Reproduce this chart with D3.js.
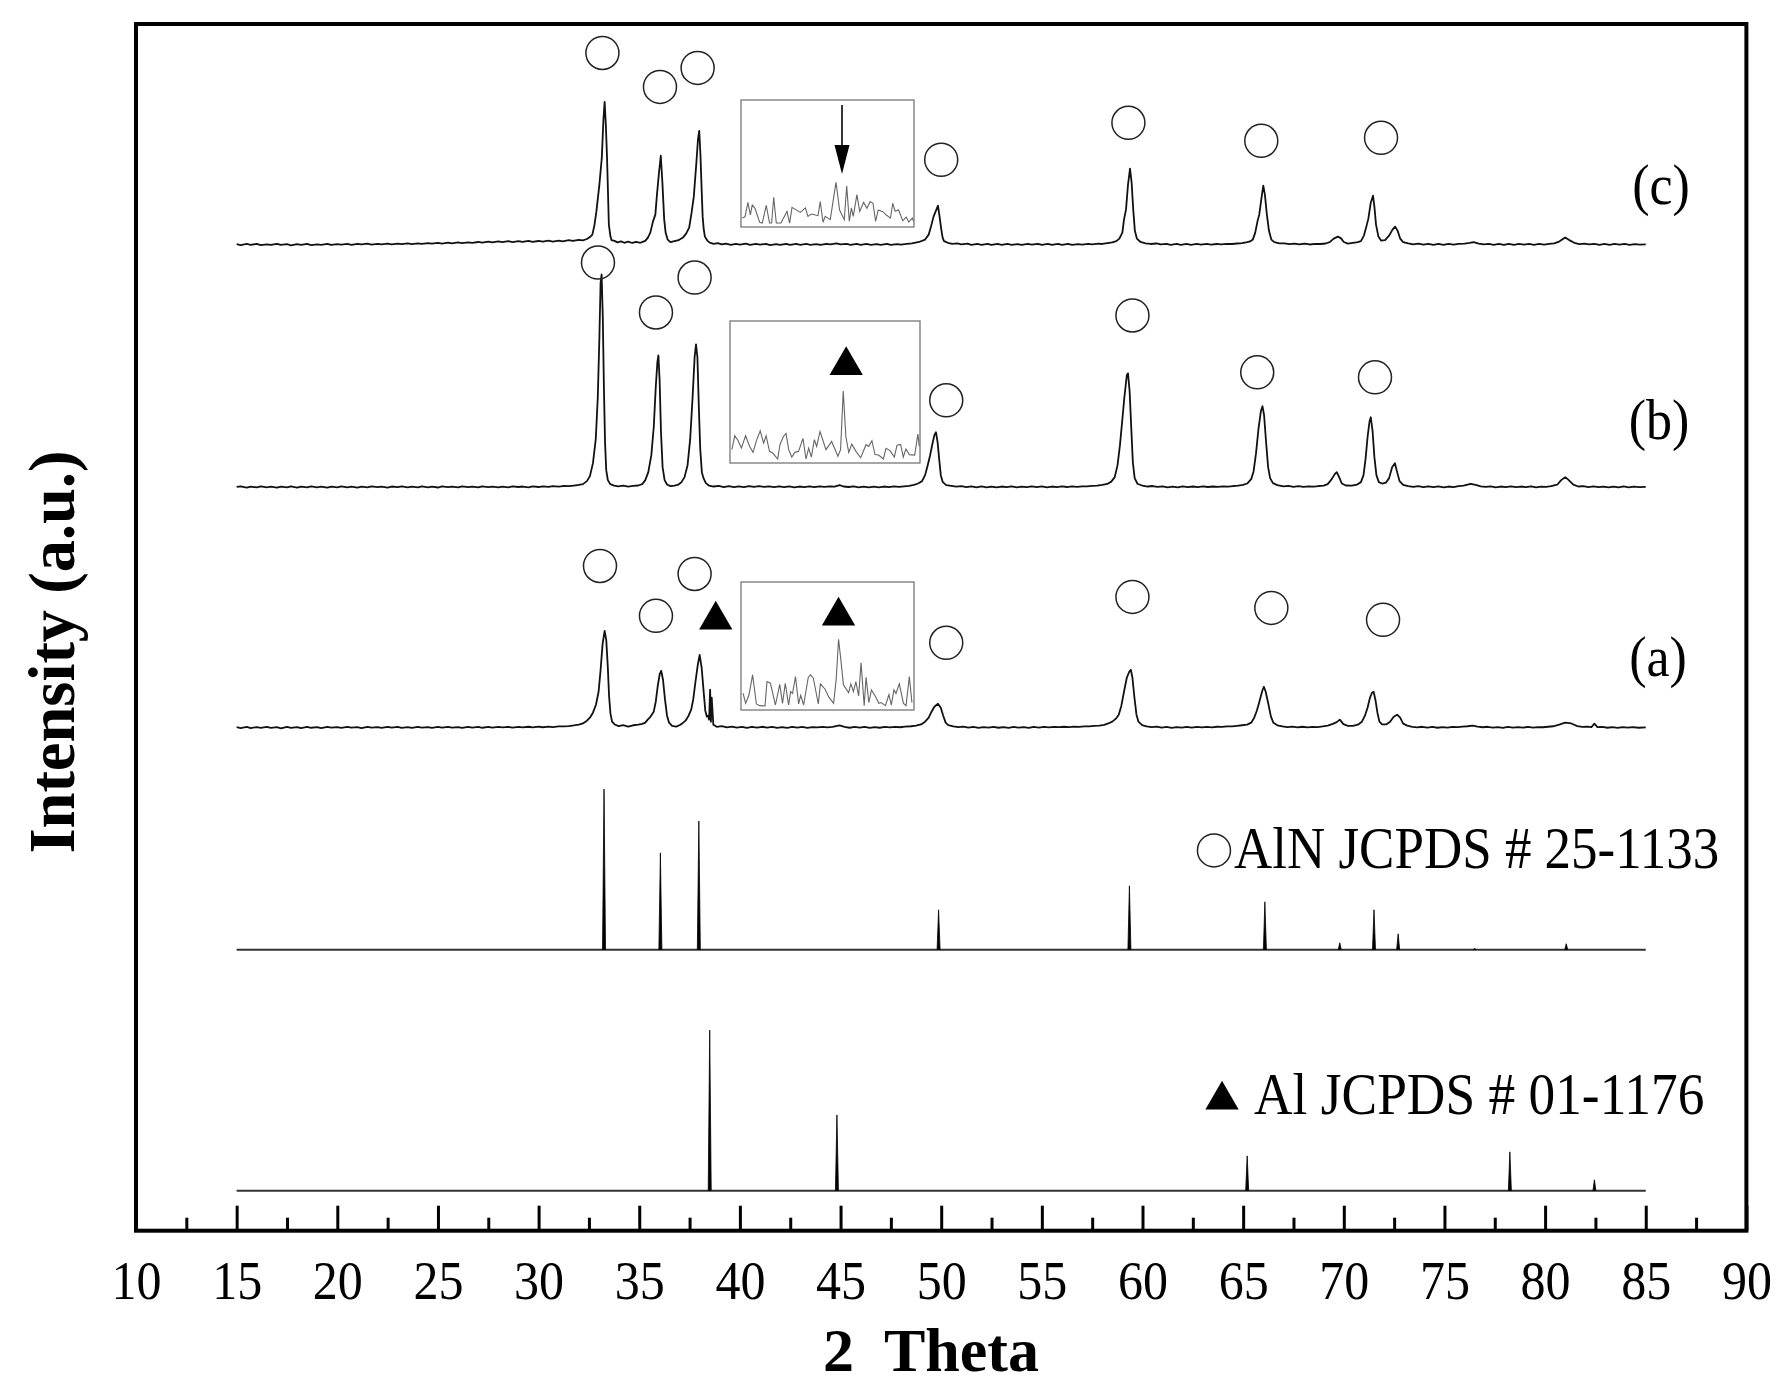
<!DOCTYPE html>
<html>
<head>
<meta charset="utf-8">
<script src="https://cdn.jsdelivr.net/npm/d3@7"></script>
<style>
  html, body { margin: 0; background: #fff; }
  text { font-family: "Liberation Serif", serif; fill: #000; }
</style>
</head>
<body>
<div id="chart"></div>
<script>
// axis ticks
var majorTicks = [10,15,20,25,30,35,40,45,50,55,60,65,70,75,80,85,90];
var minorTicks = [12.5,17.5,22.5,27.5,32.5,37.5,42.5,47.5,52.5,57.5,62.5,67.5,72.5,77.5,82.5,87.5];

// baselines of the stacked patterns (a.u.)
var offsetC = 988, offsetB = 745, offsetA = 504, offsetAlN = 281.5, offsetAl = 40;

// measured patterns: [2 theta, intensity]
var patternC = [
[15,0.4],[15.2,-0.5],[15.5,0.6],[15.7,-0.3],[16,0.7],[16.2,-0.6],[16.5,0.3],[16.7,-0.4],[17,0.8],[17.2,-0.2],[17.5,0.4],[17.7,-0.7],[18,0.5],[18.2,-0.3],[18.5,0.7],[18.7,-0.5],[19,0.3],[19.2,-0.2],[19.5,0.8],[19.7,-0.4],[20,0.5],[20.2,0],[20.5,0.8],[20.7,-0.2],[21,0.6],[21.2,0.1],[21.5,0.9],[21.7,0],[22,0.7],[22.2,0.2],[22.5,1],[22.7,0.3],[23,0.9],[23.2,0.4],[23.5,1.2],[23.7,0.5],[24,1.3],[24.2,0.7],[24.5,1.5],[24.7,0.9],[25,1.7],[25.2,1],[25.5,1.9],[25.7,1.2],[26,2.1],[26.2,1.4],[26.5,2.3],[26.7,1.7],[27,2.6],[27.2,1.9],[27.5,2.9],[27.7,2.1],[28,3.1],[28.2,2.4],[28.5,3.4],[28.7,2.5],[29,3.4],[29.2,2.6],[29.5,3.7],[29.7,2.7],[30,3.6],[30.2,2.9],[30.5,3.9],[30.7,3],[31,4],[31.2,3.2],[31.5,4.4],[31.7,3.6],[32,4.8],[32.2,4.2],[32.4,5.6],[32.55,7.5],[32.67,10],[32.77,19],[32.87,33],[33.02,60],[33.14,87],[33.22,125],[33.28,143],[33.34,120],[33.4,87],[33.45,50],[33.49,20],[33.57,8],[33.62,4.5],[33.77,3.7],[33.92,2.2],[34.1,3.2],[34.25,1.8],[34.45,3],[34.65,1.6],[34.85,2.8],[35.05,1.8],[35.2,3],[35.3,3.7],[35.43,7],[35.55,12],[35.68,23],[35.8,30],[35.88,50],[35.98,72],[36.07,89],[36.15,62],[36.24,25],[36.31,12],[36.41,5],[36.55,2.4],[36.75,3.4],[36.95,4.4],[37.17,7],[37.33,11],[37.48,17],[37.6,32],[37.71,48],[37.83,80],[37.92,106],[37.98,114],[38.04,90],[38.1,55],[38.15,28],[38.2,16],[38.26,8],[38.38,4],[38.5,2],[38.7,0.8],[38.9,1.4],[39.1,0.1],[39.3,1],[39.55,-0.3],[39.8,0.7],[40,-0.1],[40.3,0.9],[40.5,-0.3],[40.8,0.7],[41,0],[41.3,0.8],[41.5,-0.5],[41.8,0.4],[42,-0.3],[42.3,0.8],[42.5,-0.2],[42.8,0.6],[43,-0.4],[43.3,0.7],[43.5,-0.2],[43.8,0.5],[44,-0.4],[44.3,0.8],[44.5,0.1],[44.8,1.1],[45,0.2],[45.3,0.8],[45.5,-0.2],[45.8,0.6],[46,-0.4],[46.3,0.7],[46.5,-0.3],[46.8,0.5],[47,-0.3],[47.3,0.8],[47.5,-0.2],[47.8,0.5],[48,-0.1],[48.3,0.8],[48.55,1.3],[48.9,2.6],[49.2,5],[49.38,10],[49.48,17],[49.62,28],[49.84,39],[49.92,28],[49.99,17],[50.07,7],[50.14,3.5],[50.33,1.8],[50.55,0.8],[50.8,1.3],[51,0.2],[51.3,0.9],[51.5,-0.2],[51.8,0.7],[52,-0.3],[52.3,0.8],[52.5,-0.4],[52.8,0.6],[53,-0.2],[53.3,0.7],[53.5,-0.2],[53.8,0.5],[54,-0.4],[54.3,0.7],[54.5,0],[54.8,0.8],[55,-0.3],[55.3,0.6],[55.5,-0.2],[55.8,0.7],[56,-0.2],[56.3,0.6],[56.5,-0.3],[56.8,0.5],[57,0],[57.3,0.8],[57.5,0.2],[57.8,0.9],[58,0.6],[58.25,1.5],[58.5,2.2],[58.7,3.4],[58.85,6],[59,12],[59.08,25],[59.18,35],[59.28,60],[59.38,76],[59.46,62],[59.54,35],[59.62,14],[59.72,6],[59.9,2.6],[60.15,1.2],[60.4,0.6],[60.7,1.1],[60.9,0.1],[61.2,0.8],[61.4,-0.2],[61.7,0.7],[61.9,-0.2],[62.2,0.6],[62.4,-0.3],[62.7,0.7],[62.9,0],[63.2,0.7],[63.4,-0.1],[63.7,0.6],[63.9,0.1],[64.2,0.8],[64.45,0.6],[64.7,1.1],[64.95,1.4],[65.2,2.4],[65.35,3.2],[65.48,5],[65.6,12],[65.72,24],[65.8,30],[65.92,48],[66,59],[66.08,50],[66.18,30],[66.28,14],[66.4,5],[66.55,2.4],[66.8,1.2],[67.05,1.2],[67.3,0.4],[67.55,1],[67.8,0.2],[68.05,0.9],[68.3,0.1],[68.6,0.7],[68.85,0.6],[69.1,1.1],[69.3,2.4],[69.5,6],[69.7,8],[69.85,6.5],[70,2.6],[70.2,1],[70.45,1.8],[70.7,2.4],[70.85,3.5],[71,9],[71.12,18],[71.22,26],[71.34,42],[71.45,49],[71.52,38],[71.6,20],[71.72,8],[71.85,4],[72.05,4.5],[72.25,9],[72.42,15],[72.55,18],[72.67,14],[72.8,6],[72.95,2.5],[73.2,1.2],[73.45,0.3],[73.7,0.9],[73.95,0],[74.2,0.8],[74.45,-0.2],[74.7,0.6],[74.95,-0.3],[75.2,0.7],[75.45,0],[75.7,0.8],[76,0.9],[76.25,1.6],[76.45,2.4],[76.7,0.9],[76.95,0.2],[77.2,0.8],[77.45,-0.2],[77.7,0.6],[77.95,-0.3],[78.2,0.7],[78.45,-0.2],[78.7,0.6],[78.95,-0.1],[79.2,0.6],[79.45,-0.3],[79.7,0.7],[79.95,0],[80.2,0.6],[80.45,1.2],[80.7,3],[81,7],[81.2,4.5],[81.45,1.8],[81.7,0.5],[81.95,0.9],[82.2,0.1],[82.45,0.8],[82.7,-0.2],[82.95,0.7],[83.2,-0.3],[83.45,0.6],[83.7,0],[83.95,0.7],[84.2,-0.2],[84.45,0.5],[84.7,-0.1],[85,0.2]
];
var patternB = [
[15,0.2],[15.2,0.8],[15.5,-0.5],[15.7,0.6],[16,-0.3],[16.2,0.7],[16.5,-0.2],[16.7,0.4],[17,-0.6],[17.2,0.5],[17.5,-0.2],[17.7,0.8],[18,-0.4],[18.2,0.6],[18.5,-0.3],[18.7,0.7],[19,-0.2],[19.2,0.4],[19.5,-0.5],[19.7,0.6],[20,-0.2],[20.2,0.7],[20.5,-0.3],[20.7,0.5],[21,-0.4],[21.2,0.6],[21.5,-0.2],[21.7,0.8],[22,-0.1],[22.2,0.5],[22.5,-0.4],[22.7,0.6],[23,0],[23.2,0.7],[23.5,-0.3],[23.7,0.5],[24,-0.2],[24.2,0.7],[24.5,-0.3],[24.7,0.4],[25,-0.4],[25.2,0.7],[25.5,0],[25.7,0.6],[26,-0.2],[26.2,0.8],[26.5,-0.1],[26.7,0.5],[27,-0.3],[27.2,0.7],[27.5,0],[27.7,0.6],[28,-0.2],[28.2,0.5],[28.5,-0.3],[28.7,0.7],[29,0.1],[29.2,0.6],[29.5,-0.2],[29.7,0.7],[30,0.1],[30.2,0.8],[30.5,0.2],[30.7,0.9],[31,0.4],[31.2,1.1],[31.5,0.9],[31.75,1.5],[32,2.2],[32.2,3],[32.4,6],[32.55,11],[32.7,24],[32.84,48],[32.94,90],[33.02,150],[33.08,205],[33.13,213],[33.19,170],[33.24,105],[33.3,45],[33.36,17],[33.44,7],[33.56,3],[33.75,1.5],[33.95,0.7],[34.2,1.4],[34.45,0.4],[34.7,1.2],[34.95,1.6],[35.15,3],[35.3,7],[35.45,15],[35.6,32],[35.72,60],[35.82,100],[35.9,125],[35.95,132],[36.01,108],[36.08,55],[36.16,20],[36.26,7],[36.38,2.6],[36.55,1],[36.75,1.6],[36.95,2.6],[37.1,5],[37.25,10],[37.4,22],[37.53,48],[37.65,90],[37.75,130],[37.82,143],[37.89,130],[37.96,80],[38.03,38],[38.11,15],[38.19,9],[38.31,4],[38.46,1.6],[38.7,0.6],[38.95,1.2],[39.2,0.1],[39.45,0.9],[39.7,-0.1],[39.95,0.8],[40.2,0.1],[40.45,0.9],[40.7,0.2],[40.95,1],[41.2,0.2],[41.45,0.8],[41.7,0],[41.95,0.7],[42.2,-0.1],[42.45,0.7],[42.7,-0.2],[42.95,0.6],[43.2,0],[43.45,0.8],[43.7,0.1],[43.95,0.8],[44.2,0.2],[44.45,0.7],[44.7,0.5],[44.95,2],[45.15,0.6],[45.4,0.1],[45.65,0.7],[45.9,-0.2],[46.15,0.6],[46.4,-0.2],[46.65,0.5],[46.9,-0.2],[47.15,0.6],[47.4,0],[47.65,0.7],[47.9,0.2],[48.15,0.8],[48.4,1.3],[48.65,2.2],[48.85,3.6],[49.05,6],[49.2,12],[49.33,22],[49.45,32],[49.55,42],[49.66,52],[49.74,55],[49.82,45],[49.9,28],[49.98,12],[50.08,5],[50.25,2],[50.5,1.2],[50.75,0.4],[51,1],[51.25,0],[51.5,0.8],[51.75,-0.2],[52,0.7],[52.25,-0.3],[52.5,0.6],[52.75,-0.3],[53,0.6],[53.25,0],[53.5,0.7],[53.75,-0.2],[54,0.6],[54.25,-0.1],[54.5,0.7],[54.75,0],[55,0.7],[55.25,-0.3],[55.5,0.6],[55.75,0],[56,0.7],[56.25,0.1],[56.5,0.8],[56.75,0.2],[57,0.7],[57.25,0.7],[57.5,1.2],[57.75,1.4],[58,2.2],[58.25,3.2],[58.45,5.5],[58.62,10],[58.76,22],[58.88,42],[59,68],[59.1,90],[59.22,112],[59.28,114],[59.36,96],[59.44,60],[59.52,25],[59.61,9],[59.75,3.4],[60,1.4],[60.25,0.6],[60.5,1.1],[60.75,0.2],[61,0.8],[61.25,-0.2],[61.5,0.6],[61.75,-0.2],[62,0.7],[62.25,0],[62.5,0.6],[62.75,0],[63,0.7],[63.25,0.1],[63.5,0.6],[63.75,0.2],[64,0.8],[64.25,0.5],[64.5,1.1],[64.75,1.4],[65,2.2],[65.2,3.6],[65.4,8],[65.52,16],[65.64,34],[65.76,58],[65.88,76],[65.96,81],[66.04,72],[66.14,45],[66.24,20],[66.34,9],[66.48,4],[66.7,2],[67,0.8],[67.25,1.3],[67.5,0.3],[67.75,0.9],[68,0.2],[68.25,0.8],[68.5,0.5],[68.75,1.1],[69,1.5],[69.2,3],[69.4,8],[69.55,13],[69.65,15],[69.77,10],[69.9,3.6],[70.1,1.6],[70.4,1.5],[70.65,2.4],[70.85,5],[70.98,12],[71.08,28],[71.18,50],[71.28,66],[71.34,70],[71.43,56],[71.52,30],[71.62,12],[71.74,5],[71.9,3.6],[72.1,4.6],[72.25,9],[72.4,20],[72.54,24],[72.65,15],[72.77,6],[72.95,2.2],[73.2,1],[73.45,0.3],[73.7,0.9],[73.95,0],[74.2,0.8],[74.45,0],[74.7,0.7],[74.95,-0.2],[75.2,0.6],[75.45,0],[75.7,0.9],[75.95,1.4],[76.15,2.4],[76.3,3.2],[76.55,2.2],[76.8,0.8],[77.05,0.2],[77.3,0.8],[77.55,-0.2],[77.8,0.6],[78.05,0],[78.3,0.7],[78.55,-0.1],[78.8,0.6],[79.05,0],[79.3,0.7],[79.55,-0.2],[79.8,0.5],[80.05,0.3],[80.3,0.9],[80.6,2.4],[80.8,7],[81,10],[81.15,7.5],[81.4,2.4],[81.65,0.6],[81.9,1],[82.15,0.1],[82.4,0.8],[82.65,-0.1],[82.9,0.6],[83.15,-0.3],[83.4,0.6],[83.65,-0.2],[83.9,0.7],[84.15,-0.2],[84.4,0.5],[84.7,0],[85,0.3]
];
var patternA = [
[15,0.5],[15.2,-0.4],[15.5,0.7],[15.7,-0.5],[16,0.6],[16.2,-0.2],[16.5,0.8],[16.7,-0.3],[17,0.5],[17.2,-0.6],[17.5,0.7],[17.7,-0.2],[18,0.6],[18.2,-0.5],[18.5,0.7],[18.7,-0.1],[19,0.5],[19.2,-0.5],[19.5,0.7],[19.7,0],[20,0.6],[20.2,-0.3],[20.5,0.8],[20.7,0],[21,0.5],[21.2,-0.4],[21.5,0.7],[21.7,0],[22,0.6],[22.2,-0.2],[22.5,0.7],[22.7,0],[23,0.8],[23.2,-0.2],[23.5,0.5],[23.7,-0.3],[24,0.8],[24.2,0.1],[24.5,0.6],[24.7,-0.2],[25,0.7],[25.2,0],[25.5,0.8],[25.7,0.1],[26,0.6],[26.2,-0.2],[26.5,0.8],[26.7,0.1],[27,0.7],[27.2,-0.1],[27.5,0.7],[27.7,0.1],[28,0.8],[28.2,0.2],[28.5,0.7],[28.7,0],[29,0.8],[29.2,0.2],[29.5,0.9],[29.7,0.3],[30,1],[30.2,0.4],[30.5,1],[30.7,0.6],[31,1.2],[31.25,1.2],[31.5,1.6],[31.75,2.2],[32,3],[32.2,4.2],[32.4,7],[32.55,10],[32.7,15],[32.85,23],[32.98,36],[33.08,58],[33.18,84],[33.28,97],[33.36,88],[33.44,60],[33.5,32],[33.57,14],[33.65,6],[33.78,3.2],[33.98,1.6],[34.2,2.6],[34.45,1],[34.7,2.4],[34.95,3],[35.15,3.8],[35.3,5],[35.42,8],[35.52,10],[35.62,13],[35.72,16],[35.82,26],[35.92,42],[36.02,54],[36.09,57],[36.18,48],[36.28,28],[36.38,12],[36.48,5],[36.63,1.8],[36.83,1],[37,2.4],[37.15,4.5],[37.3,7],[37.45,12],[37.58,18],[37.68,28],[37.78,44],[37.9,62],[38,73],[38.1,60],[38.2,36],[38.28,17],[38.36,11],[38.42,12],[38.47,8],[38.52,38],[38.56,6],[38.6,30],[38.68,3],[38.85,0.8],[39.1,1.5],[39.35,0.2],[39.6,1],[39.85,0],[40.1,0.8],[40.35,-0.3],[40.6,0.7],[40.85,0],[41.1,0.9],[41.35,0.1],[41.6,0.7],[41.85,-0.2],[42.1,0.6],[42.35,-0.2],[42.6,0.8],[42.85,0.1],[43.1,0.7],[43.35,-0.2],[43.6,0.6],[43.85,0.2],[44.1,0.8],[44.35,0.2],[44.6,0.7],[44.95,2.2],[45.2,0.7],[45.45,-0.1],[45.7,0.8],[45.95,0],[46.2,0.7],[46.45,-0.3],[46.7,0.6],[46.95,-0.1],[47.2,0.8],[47.45,0.2],[47.7,0.8],[47.95,0.4],[48.2,1],[48.5,1.4],[48.75,2],[49,3.2],[49.2,6],[49.38,10],[49.52,16],[49.66,21],[49.84,24],[49.98,20],[50.1,12],[50.22,5],[50.35,2.6],[50.6,1.2],[50.85,0.5],[51.1,1.1],[51.35,0],[51.6,0.7],[51.85,-0.2],[52.1,0.6],[52.35,0],[52.6,0.8],[52.85,-0.1],[53.1,0.6],[53.35,-0.2],[53.6,0.7],[53.85,0],[54.1,0.6],[54.35,-0.3],[54.6,0.7],[54.85,0.1],[55.1,0.8],[55.35,0.3],[55.6,0.8],[55.85,0.5],[56.1,0.9],[56.35,0.6],[56.6,1.1],[56.85,0.8],[57.1,1.2],[57.35,1.2],[57.6,1.7],[57.85,2],[58.1,2.8],[58.3,4.2],[58.5,6],[58.68,9],[58.82,13],[58.95,22],[59.1,38],[59.22,50],[59.34,56],[59.42,58],[59.5,50],[59.6,30],[59.7,13],[59.8,6],[59.98,2.6],[60.2,1.2],[60.45,0.6],[60.7,1.1],[60.95,0],[61.2,0.7],[61.45,-0.2],[61.7,0.6],[61.95,0],[62.2,0.8],[62.45,0],[62.7,0.7],[62.95,0.2],[63.2,0.8],[63.45,0.3],[63.7,0.9],[63.95,0.8],[64.2,1.3],[64.45,1.2],[64.7,1.8],[64.95,2.4],[65.2,3],[65.4,5],[65.55,10],[65.68,17],[65.82,27],[65.95,37],[66.03,41],[66.12,36],[66.25,24],[66.38,11],[66.5,5],[66.7,2.4],[66.95,1.2],[67.2,0.6],[67.45,1.1],[67.7,0.2],[67.95,0.9],[68.2,0.2],[68.45,0.8],[68.7,0.6],[68.95,1.2],[69.2,2],[69.45,3.8],[69.65,5.5],[69.8,8],[69.98,3.6],[70.2,1.8],[70.45,1.8],[70.7,3],[70.9,6],[71.05,12],[71.18,20],[71.3,30],[71.4,35],[71.48,36],[71.57,28],[71.67,15],[71.77,6],[71.9,3.4],[72.1,3.2],[72.3,6],[72.48,11],[72.65,13],[72.8,10],[72.95,4],[73.15,2],[73.4,0.8],[73.65,0.3],[73.9,0.9],[74.15,0],[74.4,0.7],[74.65,-0.1],[74.9,0.6],[75.15,0.1],[75.4,0.8],[75.65,0.5],[75.9,1.1],[76.15,1.4],[76.4,2],[76.65,1.1],[76.9,0.4],[77.15,0.9],[77.4,0],[77.65,0.6],[77.9,-0.2],[78.15,0.7],[78.4,0],[78.65,0.6],[78.9,0],[79.15,0.7],[79.4,0.1],[79.65,0.6],[79.9,0.4],[80.15,0.9],[80.4,1.4],[80.7,3],[81,5],[81.3,4.2],[81.6,1.6],[81.85,0.7],[82.1,1],[82.3,0.5],[82.45,4],[82.6,0.6],[82.85,0.7],[83.1,-0.1],[83.35,0.6],[83.6,-0.2],[83.85,0.6],[84.1,0],[84.35,0.6],[84.65,-0.1],[85,0.2]
];

// reference card lines
var alnTheta = [33.25,36.05,37.96,49.87,59.35,66.08,69.8,71.5,72.7,76.5,81.05];
var alnHeight = [161,97,129,40,64,48,7,40,16,1.5,6];
var alTheta = [38.5,44.82,65.2,78.25,82.45];
var alHeight = [161,76,35,39,11];

// inset enlargements near 45 deg: [percent of window width, percent of window height]
var insetCLine = [[0.8,7],[2.3,8],[4,19.4],[5.4,9.5],[6.5,17.3],[8.1,14.7],[10.8,3.7],[12.3,3.1],[14.6,17],[16.5,3.1],[17.7,3.1],[18.9,23.4],[20.4,3.1],[23.1,3.1],[26.6,12.3],[28.1,3.1],[29.5,15.5],[34.3,11.5],[37.2,15],[38.7,8.4],[40.6,10.2],[43.5,9.2],[44.5,8.9],[45.8,20],[47.4,3.7],[48.7,8.4],[51.6,5.8],[54.9,35.2],[57,13.4],[59.7,5.8],[61.1,32.3],[62.6,4.5],[63.8,15],[64.9,8.4],[67,25.5],[68.6,12.3],[70.9,19.4],[72.8,14.7],[74.7,20],[76.3,18.7],[77.8,4.5],[79.3,13.4],[82,12.1],[84,9.4],[86.4,7],[87.7,18.7],[89.1,12.3],[91.1,13.4],[93.5,4.9],[95.5,7.8],[97,3.9],[99,7],[99.8,4.5]];
var insetBLine = [[1,9.4],[2.5,19.2],[4.2,15.9],[6,10.5],[8.2,19.2],[10.3,11.7],[12.1,7.5],[13.8,15.2],[15.9,22.7],[17.7,14],[19,19.2],[20.8,8.2],[22.5,7],[25.1,2.8],[26.3,12.9],[28.1,18.7],[29.5,20.8],[30.9,9.4],[32.5,4.2],[34.2,7.5],[36.1,8.2],[38.4,17.3],[40,2.8],[41.4,10.5],[42.8,4.2],[44.4,16.4],[45.6,11.7],[47.4,22.2],[50.5,9.4],[53.5,15.2],[56.8,4.7],[58.2,9.4],[59.6,50.6],[61,18.3],[62.5,7.5],[64.1,13.3],[66.3,8.2],[68.8,3.7],[71.6,12.9],[73,11.7],[74.7,15.7],[76.3,5.9],[78.2,5.6],[80.7,2.8],[82.1,10.3],[84.2,8.7],[86.5,4.2],[87.9,12.6],[89.8,13.1],[91.2,4.2],[92.6,9.8],[94.4,5.9],[97.2,5.6],[98.9,20.3],[99.6,11.7]];
var insetALine = [[1.2,13],[2.7,5.2],[4.6,11.7],[6.7,27.4],[8.9,4.7],[10.8,3.4],[13.9,3.2],[15,22.2],[17,20.9],[19.9,3.9],[22.4,20],[24,5.2],[25.6,20.9],[27.5,3.9],[28.7,14.4],[29.8,13],[31.5,26.1],[33.3,4.7],[34.5,11.5],[36.2,3.9],[38.9,25.6],[40.2,27.4],[41.8,24.8],[44.7,4.7],[45.9,20.4],[48.6,16.2],[50.6,10.4],[53.5,5.2],[55,23.5],[56.4,55.3],[57.9,37],[59.2,19.6],[62.2,13.6],[63.5,20.4],[65,14.4],[66.4,22.2],[68,11],[69.4,36.9],[71.2,3.4],[72.3,25.6],[73.9,5.8],[75.4,15.7],[77.8,10.4],[79.7,5.2],[81,5.8],[83.5,3.4],[85.5,12],[86.9,3.9],[88.4,15.7],[89.6,13],[91.5,20.4],[93.9,5.2],[95.4,3.4],[97.3,26.1],[98.8,5.8]];

// peak markers: 2 theta and height on the chart (a.u.)
var circleTheta = [33.17,36.03,37.9,50,59.3,65.9,71.85, 32.95,35.83,37.75,50.25,59.5,65.7,71.55, 33.05,35.83,37.75,50.25,59.5,66.4,71.95, 63.55];
var circleLevel = [1180,1146,1165,1073,1110,1092,1095, 970,920,955,832,917,860,855, 666,616,658,589,635,624,612, 381];
var triangleTheta = [38.8,44.9,45.28,63.95];
var triangleLevel = [612,616,867,131];

var width = 1792, height = 1400;
var margin = {top: 24, right: 45.6, bottom: 169.3, left: 136};

var svg = d3.select("#chart")
  .append("svg")
    .attr("width", width)
    .attr("height", height);

var x = d3.scaleLinear().domain([10, 90]).range([margin.left, width - margin.right]);
var y = d3.scaleLinear().domain([0, 1209]).range([height - margin.bottom, margin.top]);

// frame
svg.append("rect")
    .attr("x", margin.left)
    .attr("y", margin.top)
    .attr("width", width - margin.left - margin.right)
    .attr("height", height - margin.top - margin.bottom)
    .attr("fill", "none")
    .attr("stroke", "#000")
    .attr("stroke-width", 4);

// x axis, ticks point inwards
var axisY = height - margin.bottom;
svg.append("g")
    .attr("transform", "translate(0," + axisY + ")")
    .call(d3.axisBottom(x).tickValues(minorTicks).tickSize(-13).tickFormat(""))
    .call(function(g) { g.select(".domain").remove(); })
    .selectAll("line").attr("stroke", "#000").attr("stroke-width", 3);

var labelStretch = 1.1;
var xAxis = svg.append("g")
    .attr("transform", "translate(0," + axisY + ")")
    .call(d3.axisBottom(x).tickValues(majorTicks).tickSize(-25).tickFormat(d3.format("d")));
xAxis.select(".domain").remove();
xAxis.selectAll("line").attr("stroke", "#000").attr("stroke-width", 3);
xAxis.selectAll("text")
    .attr("y", 68 / labelStretch)
    .attr("dy", 0)
    .attr("transform", "scale(1," + labelStretch + ")")
    .style("font-size", "50px");

// measured patterns
function drawPattern(values, offset) {
  svg.append("path")
      .datum(values)
      .attr("fill", "none")
      .attr("stroke", "#111")
      .attr("stroke-width", 1.8)
      .attr("stroke-linejoin", "round")
      .attr("d", d3.line()
        .x(function(d) { return x(d[0]); })
        .y(function(d) { return y(offset + d[1]); }));
}
drawPattern(patternC, offsetC);
drawPattern(patternB, offsetB);
drawPattern(patternA, offsetA);

// reference cards
function drawCard(thetas, heights, offset) {
  svg.append("line")
      .attr("x1", x(15)).attr("x2", x(85))
      .attr("y1", y(offset)).attr("y2", y(offset))
      .attr("stroke", "#333")
      .attr("stroke-width", 2);
  svg.selectAll(null)
      .data(thetas)
      .enter()
      .append("path")
        .attr("fill", "#000")
        .attr("stroke", "#000")
        .attr("stroke-width", 0.8)
        .attr("d", function(d, i) {
          return d3.line()([
            [x(d) - 1.5, y(offset)],
            [x(d), y(offset + heights[i])],
            [x(d) + 1.5, y(offset)]
          ]);
        });
}
drawCard(alnTheta, alnHeight, offsetAlN);
drawCard(alTheta, alHeight, offsetAl);

// inset windows
function drawInset(values, x0, y0, w, h) {
  var ix = d3.scaleLinear().domain([0, 100]).range([x0, x0 + w]);
  var iy = d3.scaleLinear().domain([0, 100]).range([y0 + h, y0]);
  svg.append("rect")
      .attr("x", x0).attr("y", y0)
      .attr("width", w).attr("height", h)
      .attr("fill", "#fff")
      .attr("stroke", "#777")
      .attr("stroke-width", 1.3);
  svg.append("path")
      .datum(values)
      .attr("fill", "none")
      .attr("stroke", "#666")
      .attr("stroke-width", 1.1)
      .attr("d", d3.line()
        .x(function(d) { return ix(d[0]); })
        .y(function(d) { return iy(d[1]); }));
}
drawInset(insetCLine, 741, 100, 173, 127);
drawInset(insetBLine, 730, 321, 190, 142);
drawInset(insetALine, 741, 582, 173, 128);

// arrow inside the top inset
var arrowX = 842;
svg.append("line")
    .attr("x1", arrowX).attr("x2", arrowX)
    .attr("y1", 105).attr("y2", 150)
    .attr("stroke", "#222")
    .attr("stroke-width", 1.8);
svg.append("path")
    .attr("fill", "#000")
    .attr("d", d3.line()([[arrowX - 7.5, 145], [arrowX + 7.5, 145], [arrowX, 174]]));

// peak markers
svg.selectAll(".peak-circle")
    .data(circleTheta)
    .enter()
    .append("circle")
      .attr("class", "peak-circle")
      .attr("cx", function(d) { return x(d); })
      .attr("cy", function(d, i) { return y(circleLevel[i]); })
      .attr("r", 16.5)
      .attr("fill", "none")
      .attr("stroke", "#222")
      .attr("stroke-width", 1.5);

svg.selectAll(".peak-triangle")
    .data(triangleTheta)
    .enter()
    .append("path")
      .attr("class", "peak-triangle")
      .attr("transform", function(d, i) { return "translate(" + x(d) + "," + y(triangleLevel[i]) + ")"; })
      .attr("d", d3.symbol().type(d3.symbolTriangle).size(480))
      .attr("fill", "#000");

// text labels, stretched upwards from the baseline like the original lettering
function label(txt, px, py, size, weight, anchor, stretch) {
  svg.append("text")
      .attr("transform", "translate(" + px + "," + py + ") scale(1," + (stretch || 1) + ")")
      .attr("text-anchor", anchor || "start")
      .attr("font-weight", weight || "normal")
      .style("font-size", size + "px")
      .style("white-space", "pre")
      .text(txt);
}
label("(c)", 1661, 204, 52, "normal", "middle", 1.1);
label("(b)", 1659, 439, 52, "normal", "middle", 1.1);
label("(a)", 1658, 676, 52, "normal", "middle", 1.1);
label("AlN JCPDS # 25-1133", 1234, 868, 53, "normal", "start", 1.12);
label("Al JCPDS # 01-1176", 1254, 1114, 53.4, "normal", "start", 1.12);
label("2  Theta", 931, 1371, 62, "bold", "middle");
svg.append("text")
    .attr("transform", "translate(74,652) rotate(-90)")
    .attr("text-anchor", "middle")
    .attr("font-weight", "bold")
    .style("font-size", "64.5px")
    .text("Intensity (a.u.)");
</script>
</body>
</html>
